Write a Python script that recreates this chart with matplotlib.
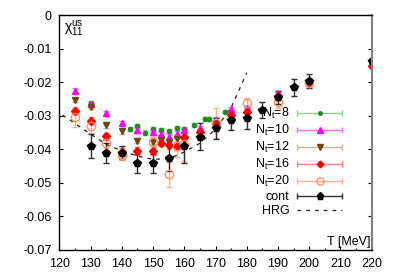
import matplotlib
matplotlib.use('Agg')
import matplotlib.pyplot as plt
from matplotlib.container import ErrorbarContainer
from matplotlib.legend_handler import HandlerErrorbar
from matplotlib.lines import Line2D
from matplotlib.ticker import MultipleLocator

plt.rcParams['font.family'] = 'Liberation Sans'
plt.rcParams['mathtext.fontset'] = 'custom'
plt.rcParams['mathtext.rm'] = 'Liberation Sans'
plt.rcParams['mathtext.it'] = 'Liberation Sans:italic'

# chi_11^us vs T
T8 = [130, 142.5, 145, 147.5, 150, 152.5, 155, 157.5, 160, 163, 166.5, 168, 173]
chi8 = [-0.0262, -0.0340, -0.0330, -0.0350, -0.0340, -0.0343, -0.0345, -0.0338,
        -0.0340, -0.0328, -0.0310, -0.0310, -0.0288]
err8 = [0.0006, 0.0006, 0.0006, 0.0006, 0.0006, 0.0006, 0.0006, 0.0006,
        0.0006, 0.0006, 0.0005, 0.0005, 0.0005]

T10 = [125, 130, 135, 140, 145, 150, 152.5, 155, 157.5, 160, 165, 170, 175, 180, 190]
chi10 = [-0.0225, -0.0265, -0.0293, -0.0322, -0.0343, -0.0348, -0.0355, -0.0362,
         -0.0353, -0.0343, -0.0338, -0.0313, -0.0281, -0.0278, -0.0233]
err10 = [0.0007, 0.0007, 0.0007, 0.0007, 0.0008, 0.0008, 0.0008, 0.0008,
         0.0008, 0.0008, 0.0008, 0.0008, 0.0008, 0.0008, 0.0008]

T12 = [125, 130, 135, 140, 145, 150, 152.5, 155, 157.5, 160, 165, 170, 175]
chi12 = [-0.0253, -0.0273, -0.0328, -0.0347, -0.0374, -0.0377, -0.0372, -0.0377,
         -0.0370, -0.0372, -0.0352, -0.0323, -0.0305]
err12 = [0.0007, 0.0008, 0.0008, 0.0008, 0.0008, 0.0008, 0.0008, 0.0008,
         0.0008, 0.0008, 0.0008, 0.0008, 0.0008]

T16 = [125, 130, 135, 140, 145, 150, 152.5, 155, 157.5, 160, 165, 170, 175, 180,
       190, 200, 220]
chi16 = [-0.0286, -0.0315, -0.0360, -0.0407, -0.0404, -0.0405, -0.0380, -0.0387,
         -0.0390, -0.0362, -0.0348, -0.0328, -0.0298, -0.0288, -0.0242, -0.0200, -0.0151]
err16 = [0.0010, 0.0010, 0.0010, 0.0012, 0.0012, 0.0012, 0.0010, 0.0012,
         0.0012, 0.0012, 0.0012, 0.0012, 0.0012, 0.0012, 0.0012, 0.0012, 0.0010]

T20 = [125, 130, 135, 140, 150, 155, 157.5, 160, 170, 180, 190, 200]
chi20 = [-0.0304, -0.0330, -0.0382, -0.0418, -0.0377, -0.0474, -0.0390, -0.0385,
         -0.0322, -0.0261, -0.0258, -0.0203]
err20 = [0.0030, 0.0020, 0.0015, 0.0015, 0.0015, 0.0037, 0.0033, 0.0050,
         0.0045, 0.0015, 0.0020, 0.0015]

Tcont = [130, 135, 140, 145, 150, 155, 160, 165, 170, 175, 180, 185, 190, 195, 200, 220]
chicont = [-0.0390, -0.0412, -0.0410, -0.0442, -0.0442, -0.0425, -0.0390, -0.0362,
           -0.0338, -0.0313, -0.0308, -0.0283, -0.0245, -0.0215, -0.0197, -0.0137]
errcont = [0.0035, 0.0030, 0.0020, 0.0028, 0.0028, 0.0040, 0.0050, 0.0040,
           0.0030, 0.0030, 0.0033, 0.0025, 0.0020, 0.0025, 0.0020, 0.0010]

Thrg = [121, 125, 130, 135, 140, 145, 150, 155, 160, 165, 170, 175, 180]
chihrg = [-0.0298, -0.0323, -0.0355, -0.0385, -0.0405, -0.0420, -0.0430, -0.0428,
          -0.0408, -0.0382, -0.0340, -0.0276, -0.0172]

series = [
    (T8, chi8, err8, r'$\mathregular{N_t}$=8', 'o', 3, '#1e8c1e', '#1e8c1e', '#8fd08f'),
    (T10, chi10, err10, r'$\mathregular{N_t}$=10', '^', 5, '#ff00ff', '#ff00ff', '#ff70ff'),
    (T12, chi12, err12, r'$\mathregular{N_t}$=12', 'v', 5, '#6b4a12', '#6b4a12', '#c9b99a'),
    (T16, chi16, err16, r'$\mathregular{N_t}$=16', 'D', 4, '#ff0000', '#ff0000', '#ff8080'),
    (T20, chi20, err20, r'$\mathregular{N_t}$=20', 'o', 6, 'none', '#ff9060', '#ffb090'),
    (Tcont, chicont, errcont, 'cont', 'p', 6, '#000000', '#000000', '#303030'),
]

fig = plt.figure(figsize=(3.96, 2.77), dpi=100)
ax = fig.add_axes([0.150, 0.0975, 0.7886, 0.8483])

handles = []
labels = []
for T, chi, err, lab, mk, ms, fc, ec, errc in series:
    ax.errorbar(T, chi, yerr=err, fmt=mk, ms=ms, mfc=fc, mec=ec, mew=1.0,
                ecolor=errc, elinewidth=1.0, capsize=2, capthick=1.0)
    # proxy for the gnuplot style horizontal legend sample
    h = ax.errorbar([float('nan')], [float('nan')], xerr=[1.0], fmt=mk, ms=ms * 0.85,
                    mfc=fc, mec=ec, mew=1.0, ecolor=errc, elinewidth=1.0,
                    capsize=2.5, capthick=1.0)
    handles.append(h)
    labels.append(lab)

ax.plot(Thrg, chihrg, color='#202020', lw=0.9, ls=(0, (3, 4)))
handles.append(Line2D([], [], color='#202020', lw=0.9, ls=(0, (3, 4))))
labels.append('HRG')

ax.set_xlim(120, 220)
ax.set_ylim(-0.07, 0)
ax.xaxis.set_major_locator(MultipleLocator(10))
ax.xaxis.set_minor_locator(MultipleLocator(5))
ax.set_yticks([0, -0.01, -0.02, -0.03, -0.04, -0.05, -0.06, -0.07])
ax.set_yticklabels(['0', '-0.01', '-0.02', '-0.03', '-0.04', '-0.05', '-0.06', '-0.07'])

ax.tick_params(axis='both', which='major', direction='in', length=3, width=0.8,
               labelsize=9, pad=5.5)
ax.tick_params(axis='x', which='minor', direction='in', length=1.5, width=0.8)
ax.tick_params(axis='y', which='both', right=True)
for s in ['left', 'bottom', 'top']:
    ax.spines[s].set_linewidth(1.0)
ax.spines['right'].set_color('#808080')
ax.spines['right'].set_linewidth(1.5)

ax.text(0.015, 0.985, r'$\mathregular{\chi^{us}_{11}}$', transform=ax.transAxes,
        ha='left', va='top', fontsize=10)
ax.text(0.995, 0.01, 'T [MeV]', transform=ax.transAxes, ha='right', va='bottom',
        fontsize=9)

ax.legend(handles, labels, loc='lower right', bbox_to_anchor=(0.925, 0.112),
          frameon=False, markerfirst=False, fontsize=9, handlelength=3.6,
          handletextpad=0.6, labelspacing=0.16, borderpad=0, numpoints=1,
          handler_map={ErrorbarContainer: HandlerErrorbar(xerr_size=1.8)})

plt.savefig('out.png', dpi=100)
